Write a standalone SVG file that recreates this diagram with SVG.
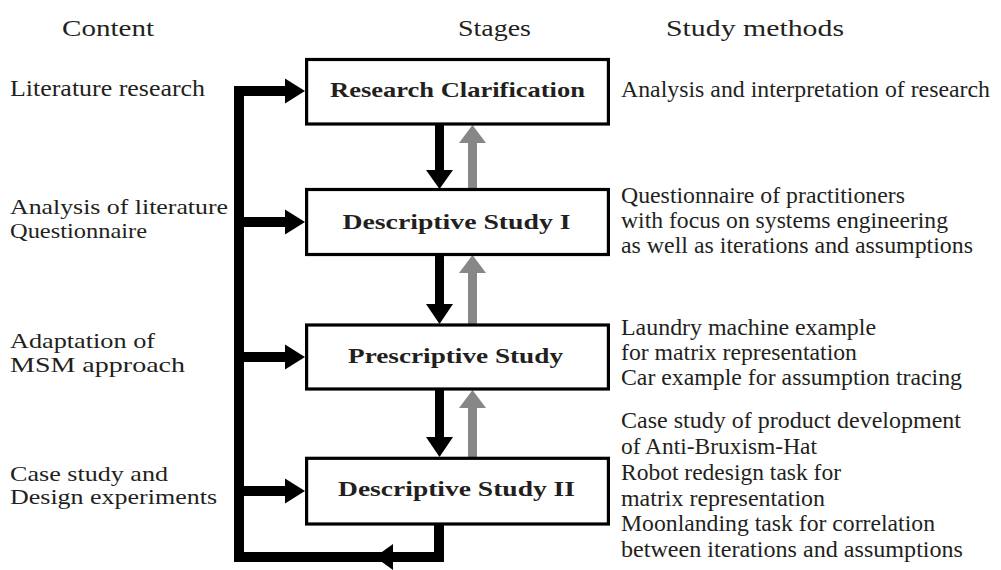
<svg xmlns="http://www.w3.org/2000/svg" width="1001" height="570" viewBox="0 0 1001 570">
  <style>
    .t { font-family: "P052", "URW Palladio L", "Palatino Linotype", "Palatino", "Liberation Serif", "Times New Roman", serif; font-size: 22.5px; fill: #231f20; }
    .l { font-family: "P052", "URW Palladio L", "Palatino Linotype", "Palatino", "Liberation Serif", "Times New Roman", serif; font-size: 21px; fill: #231f20; }
    .b { font-family: "P052", "URW Palladio L", "Palatino Linotype", "Palatino", "Liberation Serif", "Times New Roman", serif; font-size: 22px; font-weight: bold; fill: #231f20; }
    .box { fill: #ffffff; stroke: #000000; stroke-width: 3.2; }
    .blk { fill: #000000; }
    .gry { fill: #878787; }
  </style>
  <rect width="1001" height="570" fill="#ffffff"/>

  <!-- headers -->
  <g id="headers">
    <text class="t" x="62" y="36" textLength="92" lengthAdjust="spacingAndGlyphs">Content</text>
    <text class="t" x="458" y="36" textLength="73" lengthAdjust="spacingAndGlyphs">Stages</text>
    <text class="t" x="666" y="36" textLength="178" lengthAdjust="spacingAndGlyphs">Study methods</text>
  </g>

  <!-- connectors -->
  <g id="connectors">
    <!-- feedback loop -->
    <path d="M 287 91 H 239 V 557 H 439 V 524" fill="none" stroke="#000" stroke-width="10" stroke-linejoin="miter"/>
    <polygon class="blk" points="393,544 375,557 393,570"/>
    <polygon class="blk" points="285,78.5 305,91 285,103.5"/>
    <!-- branches to stages -->
    <rect class="blk" x="239" y="217" width="48" height="10"/>
    <polygon class="blk" points="285,209.5 305,222 285,234.5"/>
    <rect class="blk" x="239" y="352" width="48" height="10"/>
    <polygon class="blk" points="285,344.5 305,357 285,369.5"/>
    <rect class="blk" x="239" y="486" width="48" height="10"/>
    <polygon class="blk" points="285,478.5 305,491 285,503.5"/>

    <!-- RC <-> DS I -->
    <rect class="blk" x="435" y="124" width="9" height="48"/>
    <polygon class="blk" points="426,170 453,170 439.5,189"/>
    <rect class="gry" x="468" y="141" width="9" height="48"/>
    <polygon class="gry" points="459,143 486,143 472.5,125"/>

    <!-- DS I <-> PS -->
    <rect class="blk" x="435" y="254" width="9" height="52"/>
    <polygon class="blk" points="426,304 453,304 439.5,324"/>
    <rect class="gry" x="468" y="271" width="9" height="54"/>
    <polygon class="gry" points="459,273 486,273 472.5,255"/>

    <!-- PS <-> DS II -->
    <rect class="blk" x="435" y="389" width="9" height="50"/>
    <polygon class="blk" points="426,437 453,437 439.5,457"/>
    <rect class="gry" x="468" y="406" width="9" height="52"/>
    <polygon class="gry" points="459,408 486,408 472.5,390"/>
  </g>

  <!-- stage nodes -->
  <g id="node-research-clarification">
    <rect class="box" x="306.6" y="59.5" width="301.8" height="64.5"/>
    <text class="b" x="330" y="97" textLength="255" lengthAdjust="spacingAndGlyphs">Research Clarification</text>
  </g>
  <g id="node-descriptive-study-1">
    <rect class="box" x="306.6" y="189.5" width="301.8" height="65"/>
    <text class="b" x="342.5" y="229" textLength="228" lengthAdjust="spacingAndGlyphs">Descriptive Study I</text>
  </g>
  <g id="node-prescriptive-study">
    <rect class="box" x="306.6" y="325" width="301.8" height="64"/>
    <text class="b" x="348" y="363" textLength="215" lengthAdjust="spacingAndGlyphs">Prescriptive Study</text>
  </g>
  <g id="node-descriptive-study-2">
    <rect class="box" x="306.6" y="458.3" width="301.8" height="65.7"/>
    <text class="b" x="338" y="496" textLength="237" lengthAdjust="spacingAndGlyphs">Descriptive Study II</text>
  </g>

  <!-- content column -->
  <g id="content-1">
    <text class="t" x="10" y="96" textLength="195" lengthAdjust="spacingAndGlyphs">Literature research</text>
  </g>
  <g id="content-2">
    <text class="l" x="10" y="214.25" textLength="218" lengthAdjust="spacingAndGlyphs">Analysis of literature</text>
    <text class="l" x="10" y="237.75" textLength="137" lengthAdjust="spacingAndGlyphs">Questionnaire</text>
  </g>
  <g id="content-3">
    <text class="l" x="10" y="348.25" textLength="145" lengthAdjust="spacingAndGlyphs">Adaptation of</text>
    <text class="l" x="10" y="371.75" textLength="175" lengthAdjust="spacingAndGlyphs">MSM approach</text>
  </g>
  <g id="content-4">
    <text class="l" x="10" y="480.75" textLength="158" lengthAdjust="spacingAndGlyphs">Case study and</text>
    <text class="l" x="10" y="504.25" textLength="207" lengthAdjust="spacingAndGlyphs">Design experiments</text>
  </g>

  <!-- study methods column -->
  <g id="methods-1">
    <text class="t" x="621" y="97" textLength="369" lengthAdjust="spacingAndGlyphs">Analysis and interpretation of research</text>
  </g>
  <g id="methods-2">
    <text class="t" x="621" y="203" textLength="284" lengthAdjust="spacingAndGlyphs">Questionnaire of practitioners</text>
    <text class="t" x="621" y="228" textLength="327" lengthAdjust="spacingAndGlyphs">with focus on systems engineering</text>
    <text class="t" x="621" y="253" textLength="352" lengthAdjust="spacingAndGlyphs">as well as iterations and assumptions</text>
  </g>
  <g id="methods-3">
    <text class="t" x="621" y="335" textLength="255" lengthAdjust="spacingAndGlyphs">Laundry machine example</text>
    <text class="t" x="621" y="360" textLength="236" lengthAdjust="spacingAndGlyphs">for matrix representation</text>
    <text class="t" x="621" y="385" textLength="341" lengthAdjust="spacingAndGlyphs">Car example for assumption tracing</text>
  </g>
  <g id="methods-4">
    <text class="t" x="621" y="428" textLength="340" lengthAdjust="spacingAndGlyphs">Case study of product development</text>
    <text class="t" x="621" y="454" textLength="196" lengthAdjust="spacingAndGlyphs">of Anti-Bruxism-Hat</text>
    <text class="t" x="621" y="480" textLength="220" lengthAdjust="spacingAndGlyphs">Robot redesign task for</text>
    <text class="t" x="621" y="506" textLength="204" lengthAdjust="spacingAndGlyphs">matrix representation</text>
    <text class="t" x="621" y="531" textLength="314" lengthAdjust="spacingAndGlyphs">Moonlanding task for correlation</text>
    <text class="t" x="621" y="557" textLength="342" lengthAdjust="spacingAndGlyphs">between iterations and assumptions</text>
  </g>
</svg>
